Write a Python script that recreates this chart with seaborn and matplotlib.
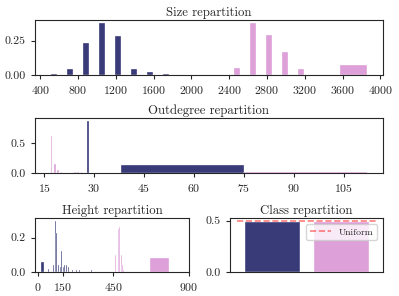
import numpy as np
import pandas as pd
import seaborn as sns
import matplotlib.pyplot as plt

sns.set_style("ticks")
plt.rcParams['font.family'] = 'cmr10'
plt.rcParams['mathtext.fontset'] = 'cm'
plt.rcParams['axes.formatter.use_mathtext'] = True
plt.rcParams['axes.linewidth'] = 0.8
plt.rcParams['xtick.major.size'] = 3
plt.rcParams['ytick.major.size'] = 3
plt.rcParams['font.size'] = 8.5

NAVY = "#383b78"
PINK = "#dda0d8"

# size repartition (bin low edge, bin high edge, frequency)
size_navy_lo = [512, 682, 852, 1022, 1192, 1362, 1532, 1702]
size_navy_hi = [577, 747, 917, 1087, 1257, 1427, 1597, 1767]
size_navy_freq = [0.01, 0.04, 0.23, 0.375, 0.285, 0.04, 0.02, 0.01]
size_pink_lo = [2447, 2617, 2787, 2957, 3127, 3575]
size_pink_hi = [2512, 2682, 2852, 3022, 3192, 3860]
size_pink_freq = [0.05, 0.38, 0.29, 0.17, 0.04, 0.07]

# outdegree repartition
deg_navy_lo = [28.0, 38.0]
deg_navy_hi = [28.5, 75.0]
deg_navy_freq = [0.87, 0.13]
deg_pink_lo = [17.0, 18.0, 19.0, 20.0, 21.0, 22.0, 23.0, 24.0, 25.0, 26.0, 75.0]
deg_pink_hi = [17.5, 18.5, 19.5, 20.5, 21.5, 22.5, 23.5, 24.5, 25.5, 26.5, 112.0]
deg_pink_freq = [0.62, 0.15, 0.06, 0.03, 0.01, 0.01, 0.01, 0.02, 0.02, 0.02, 0.03]

# height repartition
h_navy_lo = [20, 63, 92, 104, 112, 124, 133, 142, 150, 160, 168, 180, 205, 228, 248, 318]
h_navy_hi = [37, 68, 97, 109, 117, 129, 138, 147, 155, 165, 173, 185, 210, 233, 253, 323]
h_navy_freq = [0.06, 0.02, 0.04, 0.30, 0.23, 0.04, 0.03, 0.12, 0.03, 0.04, 0.04, 0.03,
               0.01, 0.01, 0.01, 0.01]
h_pink_lo = [462, 470, 478, 486, 494, 502, 510, 666]
h_pink_hi = [467, 475, 483, 491, 499, 507, 515, 780]
h_pink_freq = [0.10, 0.23, 0.25, 0.26, 0.10, 0.04, 0.01, 0.08]

# class repartition
classes = ["A", "B"]
class_freq = [0.5, 0.5]
uniform = 0.5


def hist_bars(ax, lo, hi, freq, color):
    lo = np.array(lo, dtype=float)
    hi = np.array(hi, dtype=float)
    ax.bar(lo, freq, width=hi - lo, align="edge", color=color,
           edgecolor="white", linewidth=0.25)


fig = plt.figure(figsize=(3.99, 2.96), dpi=100)
ax1 = fig.add_axes([0.0877, 0.7466, 0.872, 0.1858])
ax2 = fig.add_axes([0.0877, 0.4145, 0.872, 0.1858])
ax3 = fig.add_axes([0.0877, 0.0811, 0.386, 0.1824])
ax4 = fig.add_axes([0.5765, 0.0811, 0.3835, 0.1824])

TITLE_FS = 9.2

hist_bars(ax1, size_navy_lo, size_navy_hi, size_navy_freq, NAVY)
hist_bars(ax1, size_pink_lo, size_pink_hi, size_pink_freq, PINK)
ax1.set_xticks(range(400, 4001, 400))
ax1.set_yticks([0, 0.25])
ax1.set_yticklabels(["0.00", "0.25"])
ax1.set_title("Size repartition", pad=3, fontsize=TITLE_FS)

hist_bars(ax2, deg_navy_lo, deg_navy_hi, deg_navy_freq, NAVY)
hist_bars(ax2, deg_pink_lo, deg_pink_hi, deg_pink_freq, PINK)
ax2.set_xticks(range(15, 106, 15))
ax2.set_yticks([0, 0.5])
ax2.set_yticklabels(["0.0", "0.5"])
ax2.set_title("Outdegree repartition", pad=3, fontsize=TITLE_FS)

hist_bars(ax3, h_navy_lo, h_navy_hi, h_navy_freq, NAVY)
hist_bars(ax3, h_pink_lo, h_pink_hi, h_pink_freq, PINK)
ax3.set_xlim(-15, 900)
ax3.set_xticks([0, 150, 450, 900])
ax3.set_yticks([0, 0.2])
ax3.set_yticklabels(["0.0", "0.2"])
ax3.set_title("Height repartition", pad=3, fontsize=TITLE_FS)

df = pd.DataFrame({"cls": classes, "freq": class_freq})
sns.barplot(data=df, x="cls", y="freq", hue="cls", palette=[NAVY, PINK],
            width=0.8, legend=False, ax=ax4, saturation=1)
ax4.plot([-0.5, 1.5], [uniform, uniform], "--", color="red", alpha=0.5,
         lw=1.2, label="Uniform")
ax4.set_xlim(-0.6, 1.6)
ax4.set_ylim(0, 0.525)
ax4.set_xticks([])
ax4.set_yticks([0, 0.5])
ax4.set_yticklabels(["0.0", "0.5"])
ax4.set_xlabel("")
ax4.set_ylabel("")
ax4.legend(loc="upper right", fontsize=7, handlelength=2.2,
           borderaxespad=0.6)
ax4.set_title("Class repartition", pad=3, fontsize=TITLE_FS)

plt.savefig("out.png", dpi=100)
